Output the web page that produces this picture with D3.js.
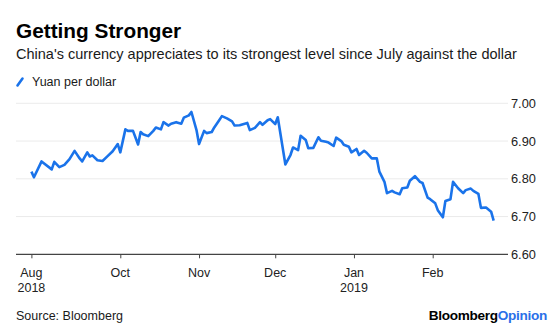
<!DOCTYPE html>
<html><head><meta charset="utf-8">
<script src="https://cdn.jsdelivr.net/npm/d3@7"></script>
<style>
html,body{margin:0;padding:0;background:#fff;}
svg{display:block;font-family:"Liberation Sans",Arial,sans-serif;}
</style></head>
<body><svg id="c" width="560" height="325"></svg>
<script>
const dates = ["2018-08-27","2018-08-28","2018-08-31","2018-09-04","2018-09-05","2018-09-07","2018-09-09","2018-09-11","2018-09-13","2018-09-15","2018-09-16","2018-09-18","2018-09-19","2018-09-20","2018-09-22","2018-09-24","2018-09-26","2018-09-28","2018-09-30",
"2018-10-01","2018-10-03","2018-10-04","2018-10-06","2018-10-08","2018-10-09","2018-10-10","2018-10-12","2018-10-14","2018-10-15","2018-10-17","2018-10-18","2018-10-20","2018-10-21","2018-10-23","2018-10-25","2018-10-26","2018-10-28","2018-10-29","2018-10-31",
"2018-11-01","2018-11-03","2018-11-04","2018-11-06","2018-11-07","2018-11-09","2018-11-10","2018-11-12","2018-11-14","2018-11-15","2018-11-17","2018-11-20","2018-11-21","2018-11-23","2018-11-25","2018-11-26","2018-11-28","2018-11-29",
"2018-12-01","2018-12-02","2018-12-05","2018-12-07","2018-12-08","2018-12-10","2018-12-11","2018-12-13","2018-12-14","2018-12-16","2018-12-18","2018-12-19","2018-12-21","2018-12-22","2018-12-24","2018-12-25","2018-12-27","2018-12-28","2018-12-30","2018-12-31",
"2019-01-02","2019-01-03","2019-01-05","2019-01-06","2019-01-08","2019-01-10","2019-01-11","2019-01-13","2019-01-14","2019-01-16","2019-01-17","2019-01-19","2019-01-20","2019-01-22","2019-01-23","2019-01-25","2019-01-27","2019-01-28","2019-01-30","2019-01-31",
"2019-02-02","2019-02-03","2019-02-05","2019-02-06","2019-02-08","2019-02-09","2019-02-11","2019-02-13","2019-02-14","2019-02-16","2019-02-17","2019-02-19","2019-02-20","2019-02-22","2019-02-24","2019-02-25"];
const yuanPerDollar = [6.819,6.804,6.846,6.825,6.845,6.831,6.837,6.852,6.874,6.854,6.846,6.870,6.859,6.862,6.849,6.847,6.860,6.873,6.892,
6.870,6.931,6.927,6.927,6.891,6.924,6.918,6.913,6.927,6.936,6.931,6.950,6.941,6.946,6.950,6.946,6.962,6.968,6.977,6.929,
6.892,6.927,6.921,6.924,6.936,6.956,6.966,6.960,6.952,6.941,6.942,6.948,6.929,6.935,6.950,6.943,6.955,6.958,
6.945,6.963,6.838,6.863,6.883,6.876,6.914,6.903,6.881,6.882,6.910,6.901,6.898,6.896,6.887,6.909,6.900,6.890,6.885,6.870,
6.879,6.863,6.874,6.869,6.854,6.854,6.819,6.792,6.762,6.768,6.764,6.759,6.775,6.777,6.795,6.807,6.792,6.789,6.750,6.746,
6.735,6.717,6.698,6.741,6.746,6.792,6.775,6.762,6.770,6.774,6.768,6.760,6.723,6.724,6.713,6.689];
const xTickDates = ["2018-08-27","2018-10-01","2018-11-01","2018-12-01","2019-01-01","2019-02-01"];
const xTickLabels = [["Aug","2018"],["Oct"],["Nov"],["Dec"],["Jan","2019"],["Feb"]];
const yTicks = [6.60,6.70,6.80,6.90,7.00];

const parse = d3.utcParse("%Y-%m-%d");
const data = dates.map((d,i)=>({date:parse(d), v:yuanPerDollar[i]}));
const svg = d3.select("#c");
const blue = "#1a73ea";

const x = d3.scaleUtc().domain([parse("2018-10-01"), parse("2019-02-01")]).range([120.3, 432.7]);
const y = d3.scaleLinear().domain([6.6, 7.0]).range([254.3, 103.3]);
const left = 16, right = 508;

// title etc
svg.append("text").attr("x",16).attr("y",37.5).attr("font-size",20.8).attr("font-weight","bold").attr("fill","#000").text("Getting Stronger");
svg.append("text").attr("x",16).attr("y",58.5).attr("font-size",14.5).attr("fill","#1a1a1a").text("China's currency appreciates to its strongest level since July against the dollar");
svg.append("line").attr("x1",17.5).attr("y1",85.5).attr("x2",22.5).attr("y2",78.5).attr("stroke",blue).attr("stroke-width",2.6).attr("stroke-linecap","round");
svg.append("text").attr("x",32).attr("y",85.5).attr("font-size",12.5).attr("fill","#1a1a1a").text("Yuan per dollar");

// grid
svg.append("g").selectAll("line").data(yTicks.filter(t=>t>6.6)).join("line")
  .attr("x1",left).attr("x2",right).attr("y1",d=>y(d)).attr("y2",d=>y(d))
  .attr("stroke","#ebebeb").attr("stroke-width",1);
// y labels
svg.append("g").selectAll("text").data(yTicks).join("text")
  .attr("x",511).attr("y",d=>y(d)).attr("dy","0.35em").attr("font-size",12.8).attr("fill","#222")
  .text(d=>d.toFixed(2));

// x axis
const xAxis = d3.axisBottom(x).tickValues(xTickDates.map(parse)).tickSize(4).tickFormat("");
const gx = svg.append("g").attr("transform",`translate(0,${y(6.6)})`).call(xAxis);
gx.select(".domain").remove();
gx.selectAll(".tick line").attr("stroke","#444");
svg.append("line").attr("x1",left).attr("x2",right).attr("y1",y(6.6)).attr("y2",y(6.6)).attr("stroke","#444").attr("stroke-width",1.2);
xTickDates.forEach((d,i)=>{
  const t = svg.append("text").attr("x",x(parse(d))).attr("text-anchor","middle").attr("font-size",12.5).attr("fill","#222");
  xTickLabels[i].forEach((s,j)=>t.append("tspan").attr("x",x(parse(d))).attr("y",277+j*15).text(s));
});

// line
svg.append("path").datum(data)
  .attr("d", d3.line().x(d=>x(d.date)).y(d=>y(d.v)))
  .attr("fill","none").attr("stroke",blue).attr("stroke-width",2.6).attr("stroke-linejoin","round");

// footer
svg.append("text").attr("x",16).attr("y",320).attr("font-size",12.5).attr("fill","#1a1a1a").text("Source: Bloomberg");
const logo = svg.append("text").attr("x",547).attr("y",320).attr("text-anchor","end").attr("font-size",13.6).attr("font-weight","bold").attr("letter-spacing",-0.3);
logo.append("tspan").attr("fill","#000").text("Bloomberg");
logo.append("tspan").attr("fill","#2a6fe8").text("Opinion");
</script></body></html>
